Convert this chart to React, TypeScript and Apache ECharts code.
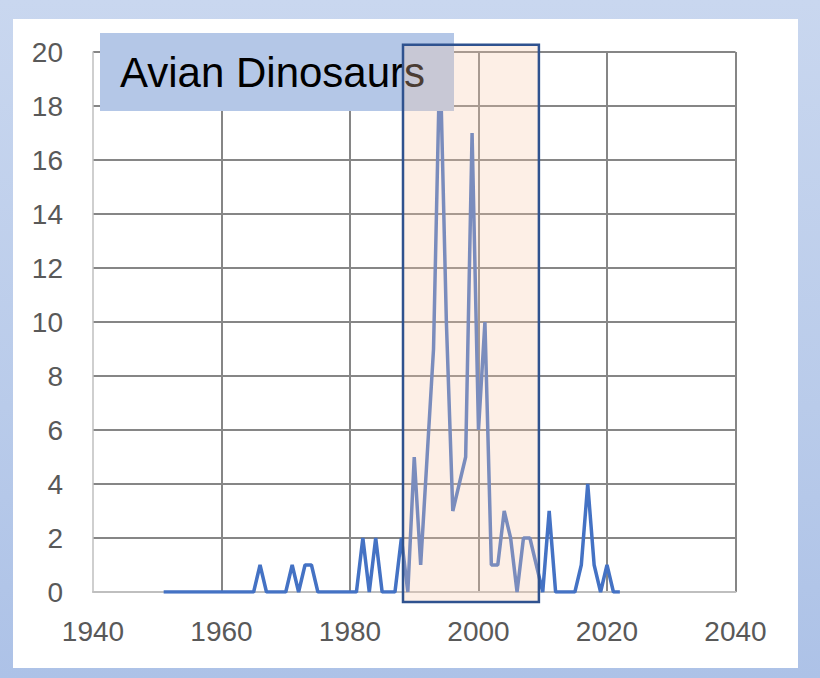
import React, { useEffect, useRef } from "react";
import * as echarts from "echarts";

const years: number[] = [];
for (let y = 1951; y <= 2022; y++) years.push(y);

const counts: number[] = [
  // 1951-1960
  0, 0, 0, 0, 0, 0, 0, 0, 0, 0,
  // 1961-1970
  0, 0, 0, 0, 0, 1, 0, 0, 0, 0,
  // 1971-1980
  1, 0, 1, 1, 0, 0, 0, 0, 0, 0,
  // 1981-1990
  0, 2, 0, 2, 0, 0, 0, 2, 0, 5,
  // 1991-2000
  1, 5, 9, 20, 10, 3, 4, 5, 17, 6,
  // 2001-2010
  10, 1, 1, 3, 2, 0, 2, 2, 1, 0,
  // 2011-2020
  3, 0, 0, 0, 0, 1, 4, 1, 0, 1,
  // 2021-2022
  0, 0,
];

const xTicks = [1940, 1960, 1980, 2000, 2020, 2040];
const yTicks = [0, 2, 4, 6, 8, 10, 12, 14, 16, 18, 20];
const titleText = "Avian Dinosaurs";

// highlighted period (annotation box), in data units
const highlightX: [number, number] = [1988.25, 2009.4];
const highlightY: [number, number] = [-0.37, 20.27];

const FONT = "'Liberation Sans', Arial, sans-serif";

export default function App() {
  const ref = useRef<HTMLDivElement>(null);

  useEffect(() => {
    if (!ref.current) return;
    const chart = echarts.init(ref.current, undefined, { renderer: "svg" });
    const data = years.map((y, i) => [y, counts[i]]);
    chart.setOption({
      animation: false,
      backgroundColor: "transparent",
      grid: { left: 93, top: 52, width: 642.5, height: 540, containLabel: false },
      xAxis: {
        type: "value",
        min: xTicks[0],
        max: xTicks[xTicks.length - 1],
        interval: 20,
        axisLine: { show: true, lineStyle: { color: "#bfbfbf", width: 2 } },
        axisTick: { show: false },
        axisLabel: {
          color: "#595959",
          fontSize: 28,
          fontFamily: FONT,
          margin: 25,
          formatter: (v: number) => String(v),
        },
        splitLine: {
          show: true,
          showMinLine: false,
          lineStyle: { color: "#868686", width: 2 },
        },
      },
      yAxis: {
        type: "value",
        min: yTicks[0],
        max: yTicks[yTicks.length - 1],
        interval: 2,
        axisLine: { show: true, lineStyle: { color: "#bfbfbf", width: 1.5 } },
        axisTick: { show: false },
        axisLabel: {
          color: "#595959",
          fontSize: 28,
          fontFamily: FONT,
          margin: 30,
          formatter: (v: number) => String(v),
        },
        splitLine: {
          show: true,
          showMinLine: false,
          lineStyle: { color: "#868686", width: 2 },
        },
      },
      series: [
        {
          type: "line",
          data,
          showSymbol: false,
          symbol: "none",
          lineStyle: { color: "#4472c4", width: 3.5 },
          z: 2,
        },
      ],
    });

    const p1 = chart.convertToPixel({ gridIndex: 0 }, [highlightX[0], highlightY[1]]) as number[];
    const p2 = chart.convertToPixel({ gridIndex: 0 }, [highlightX[1], highlightY[0]]) as number[];

    chart.setOption({
      graphic: [
        {
          type: "rect",
          z: 10,
          shape: { x: 100, y: 33, width: 354, height: 78 },
          style: { fill: "#b4c7e7" },
        },
        {
          type: "text",
          z: 11,
          x: 120,
          y: 72,
          style: {
            text: titleText,
            fill: "#000000",
            font: `42px ${FONT}`,
            textVerticalAlign: "middle",
            verticalAlign: "middle",
          },
        },
        {
          type: "rect",
          z: 20,
          shape: { x: p1[0], y: p1[1], width: p2[0] - p1[0], height: p2[1] - p1[1] },
          style: {
            fill: "rgba(248,203,173,0.3)",
            stroke: "#2f528f",
            lineWidth: 2.5,
          },
        },
      ],
    });

    return () => chart.dispose();
  }, []);

  return (
    <div
      style={{
        position: "fixed",
        left: 0,
        top: 0,
        width: 820,
        height: 678,
        background: "linear-gradient(to bottom, #c9d7ef 0%, #b9cbea 60%, #adc2e7 100%)",
        overflow: "hidden",
      }}
    >
      <div
        style={{
          position: "absolute",
          left: 13,
          top: 19,
          width: 785,
          height: 649,
          background: "#ffffff",
        }}
      />
      <div
        ref={ref}
        style={{ position: "absolute", left: 0, top: 0, width: 820, height: 678 }}
      />
    </div>
  );
}
